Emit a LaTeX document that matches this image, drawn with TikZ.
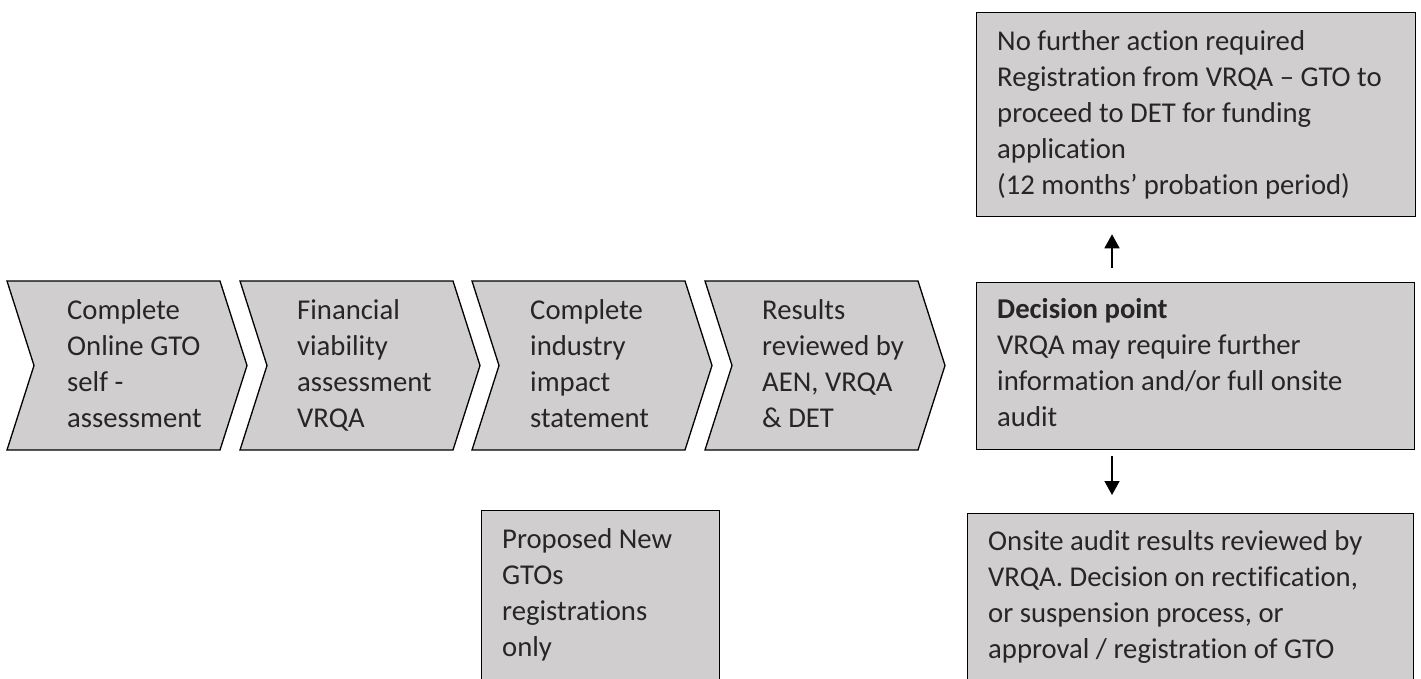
\documentclass[tikz,border=0pt]{standalone}
\usepackage{fontspec}
\setmainfont{Carlito}[Ligatures=NoCommon]
\usetikzlibrary{arrows.meta}
\definecolor{boxgray}{HTML}{D0CECE}
\definecolor{ink}{HTML}{262626}
\begin{document}
\begin{tikzpicture}[x=1pt,y=-1pt,
  chev/.style={draw=black,fill=boxgray,line width=1.3pt,line join=miter},
  panel/.style={draw=black,fill=boxgray,line width=1.3pt,inner sep=0pt,anchor=north west},
  lbl/.style={anchor=base west,inner sep=0pt,text=ink,font=\fontsize{28.7}{36}\selectfont},
  arr/.style={line width=1.6pt,-{Triangle[width=15pt,length=14pt]}}]
\useasboundingbox (0,0) rectangle (1421,678);
\clip (0,0) rectangle (1421,678);
% chevrons
\foreach \xo in {7,240,472,705}{
  \path[chev] (\xo,281) -- ++(213,0) -- ++(27,84.5) -- ++(-27,84.5) -- ++(-213,0) -- ++(27,-84.5) -- cycle;
}
\node[lbl] (c1) at (67,319) {\begin{tabular}[t]{@{}l@{}}Complete\\Online GTO\\self -\\assessment\end{tabular}};
\node[lbl] (c2) at (297,319) {\begin{tabular}[t]{@{}l@{}}Financial\\viability\\assessment\\VRQA\end{tabular}};
\node[lbl] (c3) at (530,319) {\begin{tabular}[t]{@{}l@{}}Complete\\industry\\impact\\statement\end{tabular}};
\node[lbl] (c4) at (762,319) {\begin{tabular}[t]{@{}l@{}}Results\\reviewed by\\AEN, VRQA\\\& DET\end{tabular}};
% boxes
\node[panel,minimum width=439pt,minimum height=204pt] (done) at (976,12) {};
\node[panel,minimum width=438pt,minimum height=167pt] (dec) at (976,282) {};
\node[panel,minimum width=446pt,minimum height=200pt] (audit) at (967,513) {};
\node[panel,minimum width=238pt,minimum height=200pt] (prop) at (481,510) {};
\node[lbl] (tdone) at (997,50) {\begin{tabular}[t]{@{}l@{}}No further action required\\Registration from VRQA – GTO to\\proceed to DET for funding\\application\\(12 months’ probation period)\end{tabular}};
\node[lbl] (tdec) at (997,318) {\begin{tabular}[t]{@{}l@{}}\textbf{Decision point}\\VRQA may require further\\information and/or full onsite\\audit\end{tabular}};
\node[lbl] (taudit) at (988,550) {\begin{tabular}[t]{@{}l@{}}Onsite audit results reviewed by\\VRQA. Decision on rectification,\\or suspension process, or\\approval / registration of GTO\end{tabular}};
\node[lbl] (tprop) at (502,548) {\begin{tabular}[t]{@{}l@{}}Proposed New\\GTOs\\registrations\\only\end{tabular}};
% arrows
\draw[arr] ([xshift=136pt,yshift=14pt]dec.north west) -- ([xshift=136pt,yshift=-17pt]done.south west);
\draw[arr] ([xshift=136pt,yshift=-6pt]dec.south west) -- ([xshift=145pt,yshift=18pt]audit.north west);
\end{tikzpicture}
\end{document}
